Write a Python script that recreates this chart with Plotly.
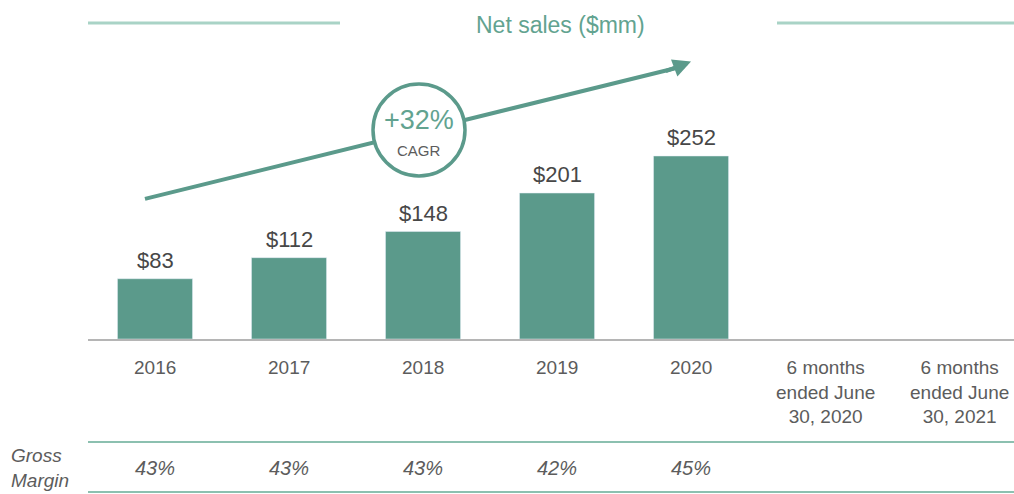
import plotly.graph_objects as go

categories = ["2016", "2017", "2018", "2019", "2020",
              "6 months<br>ended June<br>30, 2020", "6 months<br>ended June<br>30, 2021"]
net_sales = [83, 112, 148, 201, 252, None, None]
value_labels = ["$83", "$112", "$148", "$201", "$252", "", ""]
gross_margin = ["43%", "43%", "43%", "42%", "45%", "", ""]
cagr_text = "+32%"

W, H = 1014, 494
BAR = "#5b9a8b"
TEAL_TXT = "#62a390"
LINE_LIGHT = "#a9d3c6"
GRAY = "#5c5c5c"
FONT = "Liberation Sans"

idx = list(range(len(categories)))
xs = [i for i, v in zip(idx, net_sales) if v is not None]
ys = [v for v in net_sales if v is not None]

fig = go.Figure()
fig.add_trace(go.Bar(x=xs, y=ys, marker_color=BAR, width=0.56, hoverinfo="skip"))

# CAGR arrow line (trace so circle shape can sit above)
arrow_x = [-0.075, 3.95]
arrow_y = [193, 376]
fig.add_trace(go.Scatter(x=arrow_x, y=arrow_y, mode="lines",
                         line=dict(color=BAR, width=4), hoverinfo="skip"))

ann = []
for i, (lab, v) in enumerate(zip(value_labels, net_sales)):
    if v is not None:
        ann.append(dict(x=i, y=v, xref="x", yref="y", text=lab, showarrow=False,
                        yanchor="bottom", yshift=4,
                        font=dict(family=FONT, size=22, color="#474747")))
for i, c in enumerate(categories):
    ann.append(dict(x=i, y=1 - 354.5 / H, xref="x", yref="paper", text=c, showarrow=False,
                    yanchor="top", font=dict(family=FONT, size=19, color=GRAY)))
for i, g in enumerate(gross_margin):
    if g:
        ann.append(dict(x=i, y=1 - 468 / H, xref="x", yref="paper", text="<i>" + g + "</i>",
                        showarrow=False, yanchor="middle",
                        font=dict(family=FONT, size=20, color=GRAY)))
ann.append(dict(x=9 / W, y=1 - 468 / H, xref="paper", yref="paper",
                text="<i>Gross<br>Margin</i>", showarrow=False, xanchor="left", yanchor="middle",
                align="left", font=dict(family=FONT, size=19, color=GRAY)))
ann.append(dict(x=560 / W, y=1 - 25 / H, xref="paper", yref="paper", text="Net sales ($mm)",
                showarrow=False, xanchor="center", yanchor="middle",
                font=dict(family=FONT, size=23, color=TEAL_TXT)))
# arrowhead
ann.append(dict(x=4.0, y=382, ax=3.80, ay=368, xref="x", yref="y", axref="x", ayref="y",
                text="", showarrow=True, arrowhead=2, arrowsize=0.9, arrowwidth=4,
                arrowcolor=BAR))
# CAGR circle text
ann.append(dict(x=1.97, y=287.8, xref="x", yref="y", text=cagr_text, showarrow=False,
                yshift=10, font=dict(family=FONT, size=27, color=TEAL_TXT)))
ann.append(dict(x=1.97, y=287.8, xref="x", yref="y", text="CAGR", showarrow=False,
                yshift=-20, font=dict(family=FONT, size=15, color=GRAY)))

shapes = [
    dict(type="circle", xref="x", yref="y", xsizemode="pixel", ysizemode="pixel",
         xanchor=1.97, yanchor=287.8, x0=-46, x1=46, y0=-46, y1=46,
         line=dict(color=BAR, width=3.5), fillcolor="white", layer="above"),
    dict(type="line", xref="paper", yref="paper", x0=88 / W, x1=340 / W,
         y0=1 - 23 / H, y1=1 - 23 / H, line=dict(color=LINE_LIGHT, width=3)),
    dict(type="line", xref="paper", yref="paper", x0=777 / W, x1=1,
         y0=1 - 23 / H, y1=1 - 23 / H, line=dict(color=LINE_LIGHT, width=3)),
    dict(type="line", xref="paper", yref="paper", x0=88 / W, x1=1,
         y0=1 - 442 / H, y1=1 - 442 / H, line=dict(color="#8cc0b0", width=2)),
    dict(type="line", xref="paper", yref="paper", x0=88 / W, x1=1,
         y0=1 - 492 / H, y1=1 - 492 / H, line=dict(color="#8cc0b0", width=2)),
]

scale = 183 / 252  # px per unit
fig.update_layout(
    width=W, height=H, margin=dict(l=0, r=0, t=0, b=0),
    paper_bgcolor="white", plot_bgcolor="white", showlegend=False,
    xaxis=dict(domain=[88 / W, 1], range=[-0.5, 6.41], showticklabels=False,
               showgrid=False, zeroline=False, showline=True, linecolor="#b5b5b5",
               linewidth=2, fixedrange=True),
    yaxis=dict(domain=[(H - 339) / H, 1], range=[0, 339 / scale], showticklabels=False,
               showgrid=False, zeroline=False, showline=False, fixedrange=True),
    annotations=ann, shapes=shapes,
)
fig.write_html("out.html", config={"displayModeBar": False},
               post_script="document.body.style.margin='0';document.body.style.overflow='hidden';")
